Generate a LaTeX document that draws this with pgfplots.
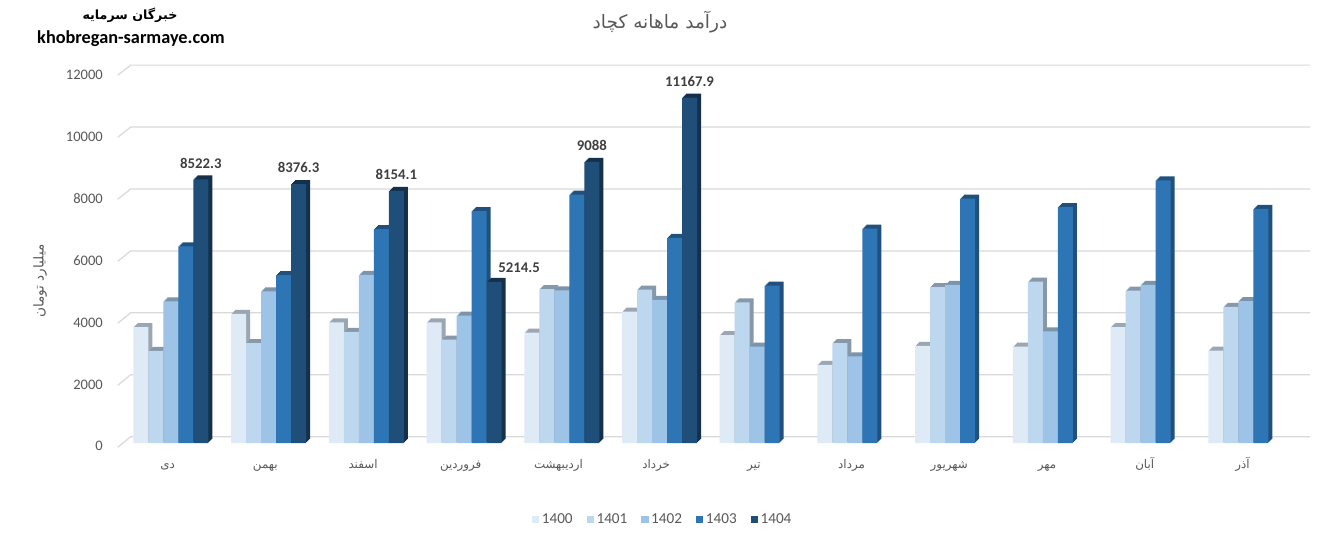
\documentclass[border=0pt]{standalone}
\usepackage{pgfplots}
\pgfplotsset{compat=1.18}
\usepackage{pgfplotstable}
\usepackage{fontspec}
\setmainfont{Carlito}
\newfontfamily\persianfont[Script=Arabic]{DejaVu Sans}
\TeXXeTstate=1
\newcommand{\fa}[1]{{\persianfont\beginR #1\endR}}
\definecolor{c0}{HTML}{DEEBF7}
\definecolor{c1}{HTML}{BDD7EE}
\definecolor{c2}{HTML}{9DC3E6}
\definecolor{c3}{HTML}{2E75B6}
\definecolor{c4}{HTML}{1F4E79}
\definecolor{s0}{HTML}{9AA6B2}
\definecolor{s1}{HTML}{8698AA}
\definecolor{s2}{HTML}{7B94AC}
\definecolor{s3}{HTML}{21507C}
\definecolor{s4}{HTML}{15304A}
\definecolor{gridc}{HTML}{D9D9D9}
\definecolor{txt}{HTML}{595959}
\definecolor{lab}{HTML}{404040}

\pgfplotstableread{
x a b c d
0 3750 2980 4580 6360
1 4180 3230 4900 5430
2 3900 3590 5440 6920
3 3900 3340 4120 7500
4 3570 4980 4940 8030
5 4250 4960 4630 6630
6 3490 4550 3120 5090
7 2530 3230 2800 6930
8 3140 5040 5110 7900
9 3120 5220 3610 7630
10 3750 4930 5110 8490
11 2990 4400 4590 7570
}\datatab

\pgfplotstableread{
x e
0 8522.3
1 8376.3
2 8154.1
3 5214.5
4 9088
5 11167.9
}\tabe

% 3D depth: stacked shifted copies
\newcommand{\shadows}[4]{%
  \addplot[ybar, bar width=11.25pt, bar shift=#1, xshift=0.75pt, yshift=0.75pt, fill=#2, draw=none, forget plot] table[x=x,y=#3]{#4};
  \addplot[ybar, bar width=11.25pt, bar shift=#1, xshift=1.5pt, yshift=1.5pt, fill=#2, draw=none, forget plot] table[x=x,y=#3]{#4};
  \addplot[ybar, bar width=11.25pt, bar shift=#1, xshift=2.25pt, yshift=2.25pt, fill=#2, draw=none, forget plot] table[x=x,y=#3]{#4};
  \addplot[ybar, bar width=11.25pt, bar shift=#1, xshift=3pt, yshift=3pt, fill=#2, draw=none, forget plot] table[x=x,y=#3]{#4};
}

\begin{document}
\begin{tikzpicture}
\fill[white] (0,0) rectangle (997.5pt,406.5pt);
\useasboundingbox (0,0) rectangle (997.5pt,406.5pt);
% back-wall gridlines
\foreach \v in {0,2000,...,12000}{
  \draw[gridc, line width=0.9pt]
    (88.3pt,{(71.025+0.02325*\v)*1pt}) --
    (98.0pt,{(78.975+0.023228*\v)*1pt}) --
    (982.5pt,{(78.975+0.023228*\v)*1pt});
}
% titles
\node[font=\fontsize{13.9}{15}\selectfont, text=txt] at (495pt,390.2pt) {\fa{درآمد ماهانه کچاد}};
\node[font=\fontsize{9.5}{11}\selectfont\bfseries, text=black] at (97.5pt,395pt) {\fa{خبرگان سرمایه}};
\node[font=\fontsize{13.7}{15}\selectfont\bfseries, text=black] at (98.25pt,377.8pt) {khobregan-sarmaye.com};
\node[font=\fontsize{10.2}{12}\selectfont, text=txt, rotate=90] at (30pt,195.75pt) {\fa{میلیارد تومان}};

\begin{axis}[
  at={(91.575pt,74.25pt)}, anchor=south west,
  scale only axis, width=879.375pt, height=278.28pt,
  xmin=-0.5, xmax=11.5, ymin=0, ymax=12000,
  clip=false,
  scaled y ticks=false,
  axis line style={draw=none},
  major tick length=0pt,
  tick style={draw=none},
  ytick={0,2000,4000,6000,8000,10000,12000},
  yticklabels={0,2000,4000,6000,8000,10000,12000},
  yticklabel style={anchor=east, inner sep=0pt, xshift=-14.3pt, yshift=-2.4pt,
     font=\fontsize{10.9}{12}\selectfont, text=txt},
  xtick={0,...,11},
  xticklabels={{\fa{دی}},{\fa{بهمن}},{\fa{اسفند}},{\fa{فروردین}},{\fa{اردیبهشت}},{\fa{خرداد}},{\fa{تیر}},{\fa{مرداد}},{\fa{شهریور}},{\fa{مهر}},{\fa{آبان}},{\fa{آذر}}},
  xticklabel style={anchor=base, inner sep=0pt, yshift=-19pt, xshift=-2.5pt,
     font=\fontsize{8.9}{11}\selectfont, text=txt},
  legend columns=5,
  legend style={at={(0.4613,-0.2057)}, anchor=center, draw=none, fill=none,
     font=\fontsize{11.4}{13}\selectfont, text=txt,
     /tikz/every even column/.append style={column sep=8.4pt}},
  legend image code/.code={\fill[#1] (0pt,-2.75pt) rectangle (5.5pt,2.75pt);},
]
% 1400
\shadows{-22.5pt}{s0}{a}{\datatab}
\addplot[ybar, bar width=11.25pt, bar shift=-22.5pt, fill=c0, draw=none] table[x=x,y=a]{\datatab};
\addlegendentry{1400}
% 1401
\shadows{-11.25pt}{s1}{b}{\datatab}
\addplot[ybar, bar width=11.25pt, bar shift=-11.25pt, fill=c1, draw=none] table[x=x,y=b]{\datatab};
\addlegendentry{1401}
% 1402
\shadows{0pt}{s2}{c}{\datatab}
\addplot[ybar, bar width=11.25pt, bar shift=0pt, fill=c2, draw=none] table[x=x,y=c]{\datatab};
\addlegendentry{1402}
% 1403
\shadows{11.25pt}{s3}{d}{\datatab}
\addplot[ybar, bar width=11.25pt, bar shift=11.25pt, fill=c3, draw=none] table[x=x,y=d]{\datatab};
\addlegendentry{1403}
% 1404
\shadows{22.5pt}{s4}{e}{\tabe}
\addplot[ybar, bar width=11.25pt, bar shift=22.5pt, fill=c4, draw=none,
   point meta=explicit symbolic,
   nodes near coords={\pgfplotspointmeta},
   every node near coord/.append style={anchor=base, inner sep=0pt, xshift=22.5pt, yshift=8.3pt,
      font=\fontsize{11.1}{12}\selectfont\bfseries, text=lab}]
   coordinates {(0,8522.3) [8522.3] (1,8376.3) [8376.3] (2,8154.1) [8154.1] (3,5214.5) [] (4,9088) [9088] (5,11167.9) [11167.9]};
\addlegendentry{1404}
% moved label of the 1404 bar in farvardin
\addplot[ybar, bar width=11.25pt, bar shift=22.5pt, draw=none, fill=none, forget plot,
   point meta=explicit symbolic,
   nodes near coords={\pgfplotspointmeta},
   every node near coord/.append style={anchor=base, inner sep=0pt, xshift=41.25pt, yshift=7.2pt,
      font=\fontsize{11.1}{12}\selectfont\bfseries, text=lab}]
   coordinates {(3,5214.5) [5214.5]};
\end{axis}
\end{tikzpicture}
\end{document}
